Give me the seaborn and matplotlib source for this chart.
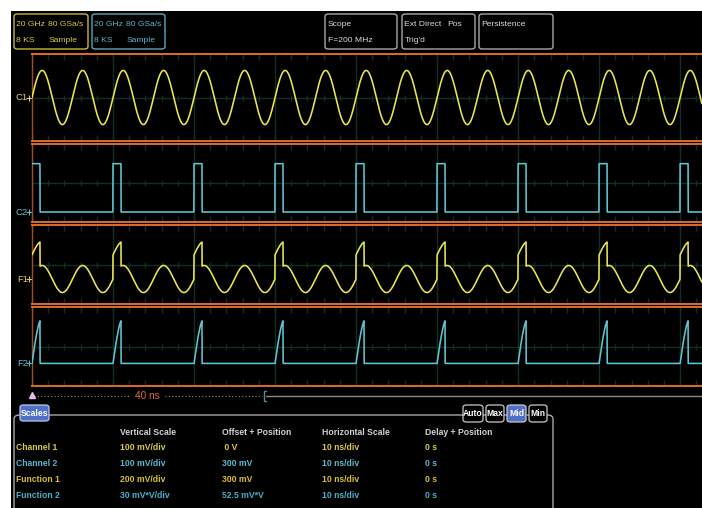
#!/usr/bin/env python3
"""
Scope screen capture: 200 MHz sine (C1), 100 MHz gate pulse (C2),
their sum (F1) and product (F2), with the setup / scales panels.
"""

import numpy as np
import pandas as pd
import matplotlib
matplotlib.use('Agg')
import matplotlib.pyplot as plt
import matplotlib.transforms as mtransforms
from matplotlib.patches import FancyBboxPatch
import seaborn as sns

# ----------------------------------------------------------------------
# Data read off the capture
# ----------------------------------------------------------------------
TRACE_NAMES = ['C1', 'C2', 'F1', 'F2']

# signal parameters (C1 = sine, C2 = gate pulse)
SINE_FREQ_GHZ = 0.2            # F=200 MHz
C1_AMPL_V = 0.28
PULSE_STARTS_NS = [0, 10, 20, 30, 40, 50, 60, 70, 80]
PULSE_WIDTH_NS = 1.0
C2_LOW_V = 0.0
C2_HIGH_V = 0.5

# vertical settings per trace (units/div and offset)
VOLTS_PER_DIV = [0.1, 0.1, 0.2, 0.030]
OFFSETS = [0.0, 0.3, 0.3, 0.0525]

# visible time window (10 ns/div)
T_VISIBLE_NS = 82.7
SAMPLE_NS = 0.02

# top info boxes
BOX_LINES = [
    [('20 GHz', '80 GSa/s'), ('8 KS', 'Sample')],
    [('20 GHz', '80 GSa/s'), ('8 KS', 'Sample')],
    [('Scope', ''), ('F=200 MHz', '')],
    [('Ext Direct', 'Pos'), ("Trig'd", '')],
    [('Persistence', ''), ('', '')],
]

# scales table
TABLE_HEADERS = ['Vertical Scale', 'Offset + Position', 'Horizontal Scale', 'Delay + Position']
ROW_NAMES = ['Channel 1', 'Channel 2', 'Function 1', 'Function 2']
VERT_SCALE = ['100 mV/div', '100 mV/div', '200 mV/div', '30 mV*V/div']
OFFSET_POS = [' 0 V', '300 mV', '300 mV', '52.5 mV*V']
HORIZ_SCALE = ['10 ns/div', '10 ns/div', '10 ns/div', '10 ns/div']
DELAY_POS = ['0 s', '0 s', '0 s', '0 s']
BUTTONS = ['Auto', 'Max', 'Mid', 'Min']

# ----------------------------------------------------------------------
# Layout / style
# ----------------------------------------------------------------------
W, H = 702, 508
PX_PER_DIV = 9.67
PANEL_PX = [(54, 141), (144, 222), (225, 304), (307, 386)]
PANEL_X0 = 32

YELLOW = '#ece64e'
CYAN = '#5cc6d6'
TXT_YELLOW = '#d9cb3e'
TXT_CYAN = '#5ab9ca'
TRACE_COLORS = [YELLOW, CYAN, YELLOW, CYAN]
LABEL_COLORS = ['#d6d27a', '#6cbfcf', '#d8cc40', '#5ab9ca']
ROW_COLORS = [TXT_YELLOW, TXT_CYAN, '#d8c226', '#45b2c8']
ORANGE = '#e2692c'
GRID = '#132e21'
FRAME = '#a8a8a8'
BLUE = '#5070c8'

FONT = ['Liberation Sans', 'DejaVu Sans']
FS_BOX = 6.1
FS_TAB = 6.2


def fig_box(x0, y0, x1, y1):
    """pixel box (top-left origin) -> figure fraction rect"""
    return [x0 / W, 1 - y1 / H, (x1 - x0) / W, (y1 - y0) / H]


def fx(x):
    return x / W


def fy(y):
    return 1 - y / H


def rbox(fig, x0, y0, x1, y1, ec, fc='none', lw=1.0, r=0.005, z=2):
    p = FancyBboxPatch((fx(x0), fy(y1)), (x1 - x0) / W, (y1 - y0) / H,
                       boxstyle=f'round,pad=0,rounding_size={r}',
                       transform=fig.transFigure, ec=ec, fc=fc, lw=lw, zorder=z)
    fig.add_artist(p)


# ----------------------------------------------------------------------
# Waveforms
# ----------------------------------------------------------------------
t = np.arange(0, T_VISIBLE_NS, SAMPLE_NS)
c1 = C1_AMPL_V * np.sin(2 * np.pi * SINE_FREQ_GHZ * t)
gate = np.zeros_like(t, dtype=bool)
for s in PULSE_STARTS_NS:
    gate |= (t >= s - 1e-9) & (t < s + PULSE_WIDTH_NS)
c2 = np.where(gate, C2_HIGH_V, C2_LOW_V)
df = pd.DataFrame({'t': t, 'C1': c1, 'C2': c2, 'F1': c1 + c2, 'F2': c1 * c2})

# ----------------------------------------------------------------------
# Figure
# ----------------------------------------------------------------------
sns.set_theme(style='dark')
plt.rcParams['font.family'] = FONT

fig = plt.figure(figsize=(W / 100, H / 100), dpi=100, facecolor='white')

bg = fig.add_axes(fig_box(11, 11, W, H))
bg.set_facecolor('black')
bg.set_xticks([])
bg.set_yticks([])
for sp in bg.spines.values():
    sp.set_visible(False)
bg.set_zorder(-5)

minor = np.arange(0, T_VISIBLE_NS, 2)
major = np.arange(0, T_VISIBLE_NS, 10)

for i, name in enumerate(TRACE_NAMES):
    y0, y1 = PANEL_PX[i]
    ax = fig.add_axes(fig_box(PANEL_X0, y0, W, y1))
    ax.set_facecolor('black')
    half = (y1 - y0) / 2 / PX_PER_DIV * VOLTS_PER_DIV[i]
    ax.set_ylim(OFFSETS[i] - half, OFFSETS[i] + half)
    ax.set_xlim(0, T_VISIBLE_NS)

    # graticule
    ax.set_xticks(major)
    ax.set_xticks(minor, minor=True)
    ax.set_yticks([])
    ax.tick_params(which='both', direction='in', length=4, width=1, color=GRID,
                   top=True, bottom=True, labelbottom=False, left=False)
    ax.xaxis.grid(True, which='major', color=GRID, lw=1)
    ax.axhline(OFFSETS[i], color=GRID, lw=1, zorder=1)
    ax.plot(minor, np.full(len(minor), OFFSETS[i]), ls='none', marker='|',
            ms=5, mew=1, color=GRID, zorder=1)

    sns.lineplot(data=df, x='t', y=name, ax=ax, color=TRACE_COLORS[i],
                 lw=1.15, estimator=None, zorder=3)
    ax.set_xlabel('')
    ax.set_ylabel('')

    for side in ('top', 'bottom'):
        ax.spines[side].set_color(ORANGE)
        ax.spines[side].set_linewidth(1.4)
    ax.spines['left'].set_color('#a24b22')
    ax.spines['left'].set_linewidth(1.0)
    ax.spines['right'].set_visible(False)

    # ground marker
    trans = mtransforms.blended_transform_factory(ax.transAxes, ax.transData)
    ax.text(-0.006, 0, name, transform=trans, ha='right', va='center',
            color=LABEL_COLORS[i], fontsize=6.8, clip_on=False)
    ax.plot([-0.005], [0], transform=trans, marker='+', ms=4, mew=0.8,
            color=LABEL_COLORS[i], clip_on=False)

# time ruler under the grid
rl = fig.add_axes(fig_box(PANEL_X0, 389, W, 403))
rl.set_xlim(0, T_VISIBLE_NS)
rl.set_ylim(0, 1)
rl.axis('off')
rl.plot([0.3, 12.0], [0.5, 0.5], ls=(0, (1, 2)), lw=0.8, color='#8a8a8a')
rl.plot([16.4, 28.4], [0.5, 0.5], ls=(0, (1, 2)), lw=0.8, color='#8a8a8a')
rl.plot([0], [0.55], marker='^', ms=4, color='#e8b8e8', clip_on=False)
rl.text(14.2, 0.5, '40 ns', ha='center', va='center', color=ORANGE, fontsize=7.2)
rl.plot([28.9, 28.6, 28.6, 28.9], [0.85, 0.85, 0.15, 0.15], color='#4a8e98', lw=1)
rl.plot([28.9, T_VISIBLE_NS], [0.5, 0.5], color='#8a8a8a', lw=1)

# top info boxes
BOX_PX = [(14, 88), (92, 165), (325, 397), (402, 475), (479, 553)]
BOX_EC = ['#c8b83c', '#5aa8b8', FRAME, FRAME, FRAME]
BOX_TC = [TXT_YELLOW, TXT_CYAN, '#dcdcdc', '#dcdcdc', '#dcdcdc']
COL2_DX = [32, 32, 0, 43, 0]
for (x0, x1), ec, tc, lines, dx in zip(BOX_PX, BOX_EC, BOX_TC, BOX_LINES, COL2_DX):
    rbox(fig, x0, 14, x1, 49, ec=ec, lw=1.0)
    for (a, b), yy in zip(lines, (24.5, 40)):
        fig.text(fx(x0 + 2.5), fy(yy), a, color=tc, fontsize=FS_BOX, va='center')
        if b:
            fig.text(fx(x0 + 2.5 + dx), fy(yy), b, color=tc, fontsize=FS_BOX, va='center')

# scales frame
rbox(fig, 14, 415, 553, 530, ec=FRAME, lw=1.0, r=0.008, z=1)
rbox(fig, 20, 405, 49, 421, ec='#b8c8f0', fc=BLUE, lw=0.9, z=3)
fig.text(fx(34.5), fy(413.5), 'Scales', color='white', fontsize=FS_TAB,
         fontweight='bold', ha='center', va='center', zorder=4)
BTN_PX = [(463, 483), (486, 504), (507, 526), (529, 547)]
for (x0, x1), lab in zip(BTN_PX, BUTTONS):
    fc = BLUE if lab == 'Mid' else 'black'
    rbox(fig, x0, 405, x1, 422, ec='#c8c8c8', fc=fc, lw=0.9, z=3)
    fig.text(fx((x0 + x1) / 2), fy(413.5), lab, color='white', fontsize=FS_TAB,
             fontweight='bold', ha='center', va='center', zorder=4)

# scales table
COL_X = [120, 222, 322, 425]
for cx, head in zip(COL_X, TABLE_HEADERS):
    fig.text(fx(cx), fy(432.5), head, color='#d4d4d4', fontsize=FS_TAB,
             fontweight='bold', va='center')
ROW_Y = [448, 464, 480, 496]
for r, yy in enumerate(ROW_Y):
    vals = [VERT_SCALE[r], OFFSET_POS[r], HORIZ_SCALE[r], DELAY_POS[r]]
    fig.text(fx(16), fy(yy), ROW_NAMES[r], color=ROW_COLORS[r], fontsize=FS_TAB,
             fontweight='bold', va='center')
    for cx, v in zip(COL_X, vals):
        fig.text(fx(cx), fy(yy), v, color=ROW_COLORS[r], fontsize=FS_TAB,
                 fontweight='bold', va='center')

fig.savefig('out.png', dpi=100, facecolor='white')
print('saved out.png')
